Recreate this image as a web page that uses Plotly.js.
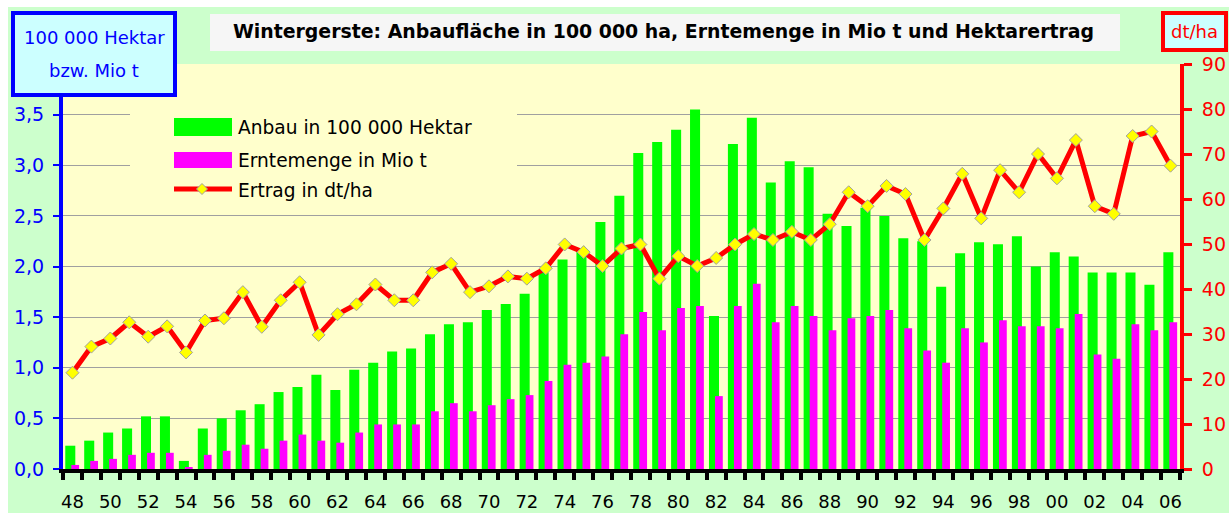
<!DOCTYPE html>
<html>
<head>
<meta charset="utf-8">
<script src="https://cdn.plot.ly/plotly-3.0.1.min.js"></script>
<style>
html,body{margin:0;padding:0;background:#ffffff;}
#chart{position:absolute;left:8px;top:7px;width:1221px;height:506px;}
</style>
</head>
<body>
<div id="chart"></div>
<script>
// ---- data ----
const years = [1948,1949,1950,1951,1952,1953,1954,1955,1956,1957,1958,1959,1960,1961,1962,1963,1964,1965,1966,1967,1968,1969,1970,1971,1972,1973,1974,1975,1976,1977,1978,1979,1980,1981,1982,1983,1984,1985,1986,1987,1988,1989,1990,1991,1992,1993,1994,1995,1996,1997,1998,1999,2000,2001,2002,2003,2004,2005,2006];
const anbau = [0.23,0.28,0.36,0.40,0.52,0.52,0.08,0.40,0.50,0.58,0.64,0.76,0.81,0.93,0.78,0.98,1.05,1.16,1.19,1.33,1.43,1.45,1.57,1.63,1.73,1.94,2.07,2.16,2.44,2.70,3.12,3.23,3.35,3.55,1.51,3.21,3.47,2.83,3.04,2.98,2.52,2.40,2.58,2.50,2.28,2.25,1.80,2.13,2.24,2.22,2.30,2.00,2.14,2.10,1.94,1.94,1.94,1.82,2.14];
const ernte = [0.04,0.08,0.10,0.14,0.16,0.16,0.02,0.14,0.18,0.24,0.20,0.28,0.34,0.28,0.26,0.36,0.44,0.44,0.44,0.57,0.65,0.57,0.63,0.69,0.73,0.87,1.03,1.05,1.11,1.33,1.55,1.37,1.59,1.61,0.72,1.61,1.83,1.45,1.61,1.51,1.37,1.49,1.51,1.57,1.39,1.17,1.05,1.39,1.25,1.47,1.41,1.41,1.39,1.53,1.13,1.09,1.43,1.37,1.45];
const ertrag = [21.4,27.2,29.0,32.6,29.4,31.7,25.9,33.0,33.5,39.3,31.6,37.5,41.5,29.8,34.4,36.6,41.0,37.5,37.5,43.7,45.6,39.3,40.6,42.8,42.3,44.6,49.9,48.2,45.1,49.0,49.9,42.3,47.3,45.1,46.9,49.9,52.2,50.9,52.7,50.9,54.4,61.5,58.4,62.9,61.1,50.9,57.9,65.6,55.7,66.4,61.5,70.0,64.6,73.1,58.4,56.7,74.0,75.0,67.4];
const xTickVals = [1948,1950,1952,1954,1956,1958,1960,1962,1964,1966,1968,1970,1972,1974,1976,1978,1980,1982,1984,1986,1988,1990,1992,1994,1996,1998,2000,2002,2004,2006];
const xTickText = ["48","50","52","54","56","58","60","62","64","66","68","70","72","74","76","78","80","82","84","86","88","90","92","94","96","98","00","02","04","06"];
const yTickVals = [0,0.5,1,1.5,2,2.5,3,3.5,4];
const yTickText = ["0,0","0,5","1,0","1,5","2,0","2,5","3,0","3,5",""];
const y2TickVals = [0,10,20,30,40,50,60,70,80,90];
const names = ["Anbau in 100 000 Hektar","Erntemenge in Mio t","Ertrag in dt/ha"];
const titleText = "Wintergerste: Anbaufläche in 100 000 ha, Erntemenge in Mio t und Hektarertrag";

// ---- page-pixel helpers (plot area: x 63..1180, y 64..469) ----
const PL=63, PR=1180, PT=64, PB=469;
const fx = X => (X-PL)/(PR-PL);
const fy = Y => (PB-Y)/(PB-PT);
const FONT = "DejaVu Sans";

const traces = [
  {type:'bar', x:years, y:anbau, name:names[0], marker:{color:'#00FF00', line:{width:0}},
   width:0.53, offset:-0.38, showlegend:false, hoverinfo:'skip'},
  {type:'bar', x:years, y:ernte, name:names[1], marker:{color:'#FF00FF', line:{width:0}},
   width:0.41, offset:-0.06, showlegend:false, hoverinfo:'skip'},
  {type:'scatter', mode:'lines+markers', x:years, y:ertrag, yaxis:'y2', name:names[2],
   line:{color:'#FF0000', width:5},
   marker:{symbol:'diamond', size:10, color:'#FFFF00', line:{color:'#A0A0A0', width:1}},
   showlegend:false, hoverinfo:'skip'}
];

const dx=5.5;
const shapes = [
  // legend backdrop
  {type:'rect', xref:'paper', yref:'paper', x0:fx(130), x1:fx(517), y0:fy(205), y1:fy(98),
   fillcolor:'#FFFFCC', line:{width:0}, layer:'above'},
  {type:'rect', xref:'paper', yref:'paper', x0:fx(174), x1:fx(232), y0:fy(136), y1:fy(118),
   fillcolor:'#00FF00', line:{width:0}, layer:'above'},
  {type:'rect', xref:'paper', yref:'paper', x0:fx(174), x1:fx(232), y0:fy(168), y1:fy(152),
   fillcolor:'#FF00FF', line:{width:0}, layer:'above'},
  {type:'line', xref:'paper', yref:'paper', x0:fx(174), x1:fx(232), y0:fy(189), y1:fy(189),
   line:{color:'#FF0000', width:5}, layer:'above'},
  {type:'path', xref:'paper', yref:'paper',
   path:`M${fx(202-dx)},${fy(189)} L${fx(202)},${fy(189-dx)} L${fx(202+dx)},${fy(189)} L${fx(202)},${fy(189+dx)} Z`,
   fillcolor:'#FFFF00', line:{color:'#A0A0A0', width:1}, layer:'above'},
  // title box
  {type:'rect', xref:'paper', yref:'paper', x0:fx(210), x1:fx(1120), y0:fy(51), y1:fy(14),
   fillcolor:'#F6F6F6', line:{width:0}, layer:'above'},
  // left unit box
  {type:'rect', xref:'paper', yref:'paper', x0:fx(13), x1:fx(175), y0:fy(95), y1:fy(13),
   fillcolor:'#CCFFFF', line:{color:'#0000FF', width:4}, layer:'above'},
  // right unit box
  {type:'rect', xref:'paper', yref:'paper', x0:fx(1163), x1:fx(1226), y0:fy(50), y1:fy(13),
   fillcolor:'#CCFFFF', line:{color:'#FF0000', width:4}, layer:'above'}
];

const ann = (text, X, Y, color, anchor, size) => ({
  text:text, xref:'paper', yref:'paper', x:fx(X), y:fy(Y), xanchor:anchor||'center', yanchor:'middle',
  showarrow:false, font:{family:FONT, size:size||18, color:color}
});

const annotations = [
  ann(names[0], 236, 127, '#000000', 'left', 18.6),
  ann(names[1], 236, 160, '#000000', 'left', 18.6),
  ann(names[2], 236, 190, '#000000', 'left', 18.6),
  ann("100 000 Hektar", 94, 38, '#0000FF'),
  ann("bzw. Mio t", 94, 70, '#0000FF'),
  ann("dt/ha", 1194.5, 31, '#FF0000')
];

const layout = {
  width:1221, height:506,
  margin:{l:55, r:49, t:57, b:44, pad:0},
  paper_bgcolor:'#CCFFCC',
  plot_bgcolor:'#FFFFCC',
  barmode:'overlay',
  showlegend:false,
  title:{text:'<b>'+titleText+'</b>', xref:'container', yref:'container',
         x:(663.5-8)/1221, y:1-(31-7)/506, xanchor:'center', yanchor:'middle',
         font:{family:FONT, size:18.9, color:'#000000'}},
  xaxis:{
    range:[1947.5, 2006.5], tickmode:'array', tickvals:xTickVals, ticktext:xTickText,
    ticks:'', showgrid:false, zeroline:false,
    showline:true, linecolor:'#000000', linewidth:4,
    tickfont:{family:FONT, size:18, color:'#000000'},
    ticklabelstandoff:13,
    minor:{tick0:1947.5, dtick:1, ticks:'outside', ticklen:7, tickwidth:4, tickcolor:'#000000', showgrid:false}
  },
  yaxis:{
    range:[0,4], tickmode:'array', tickvals:yTickVals, ticktext:yTickText,
    showgrid:true, gridcolor:'#A0A0A0', gridwidth:1, zeroline:false,
    showline:true, linecolor:'#0000FF', linewidth:4,
    ticks:'outside', ticklen:6, tickwidth:2, tickcolor:'#0000FF',
    tickfont:{family:FONT, size:19, color:'#0000FF'}, ticklabelstandoff:5
  },
  yaxis2:{
    range:[0,90], overlaying:'y', side:'right', tickmode:'array', tickvals:y2TickVals,
    showgrid:false, zeroline:false,
    showline:true, linecolor:'#FF0000', linewidth:4,
    ticks:'outside', ticklen:8, tickwidth:3, tickcolor:'#FF0000',
    tickfont:{family:FONT, size:19, color:'#FF0000'}, ticklabelstandoff:6
  },
  shapes:shapes,
  annotations:annotations
};

Plotly.newPlot('chart', traces, layout, {staticPlot:true, displayModeBar:false});
</script>
</body>
</html>
